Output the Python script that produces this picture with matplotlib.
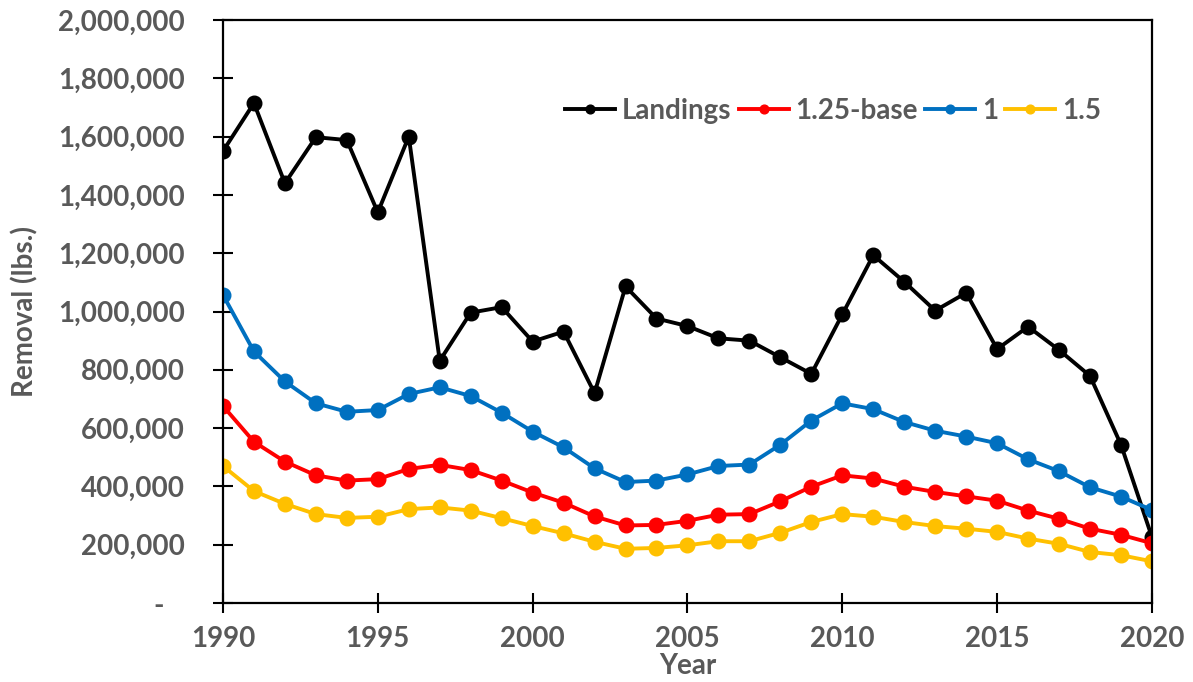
import matplotlib
matplotlib.use("Agg")
import matplotlib.pyplot as plt
from matplotlib.ticker import FuncFormatter, MultipleLocator

years = list(range(1990, 2021))
landings = [1550000, 1715000, 1440000, 1598000, 1588000, 1340000, 1600000, 831000, 996000, 1015000,
            897000, 931000, 720000, 1086000, 976000, 950000, 908000, 900000, 843000, 786000,
            990000, 1193000, 1102000, 1003000, 1064000, 871000, 948000, 868000, 779000, 543000, 226000]
base_125 = [676000, 553000, 485000, 438000, 420000, 425000, 460000, 474000, 456000, 420000,
            379000, 344000, 297000, 266000, 268000, 282000, 303000, 305000, 349000, 399000,
            438000, 427000, 399000, 381000, 366000, 351000, 317000, 289000, 255000, 234000, 205000]
m_1 = [1057000, 863000, 760000, 685000, 656000, 662000, 717000, 740000, 710000, 653000,
       588000, 534000, 462000, 415000, 420000, 441000, 470000, 475000, 543000, 626000,
       685000, 665000, 621000, 591000, 571000, 548000, 493000, 452000, 397000, 365000, 319000]
m_15 = [470000, 384000, 340000, 305000, 292000, 296000, 322000, 328000, 317000, 291000,
        264000, 239000, 210000, 186000, 189000, 198000, 212000, 212000, 241000, 278000,
        305000, 296000, 278000, 264000, 255000, 244000, 221000, 203000, 175000, 164000, 143000]

series_names = ["Landings", "1.25-base", "1", "1.5"]
series_data = [landings, base_125, m_1, m_15]
colors = ["#000000", "#FF0000", "#0070C0", "#FFC000"]

plt.rcParams['font.family'] = ['Lato', 'DejaVu Sans']
plt.rcParams['font.weight'] = 'bold'
gray = "#595959"
fs = 20

fig = plt.figure(figsize=(11.93, 6.82), dpi=100)
ax = fig.add_axes([0.1869, 0.1158, 0.9656 - 0.1869, 0.9707 - 0.1158])

for name, data, c in zip(series_names, series_data, colors):
    ax.plot(years, data, color=c, lw=2.8, marker='o', markersize=10.5, label=name)

ax.set_xlim(1990, 2020)
ax.set_ylim(0, 2000000)
ax.xaxis.set_major_locator(MultipleLocator(5))
ax.yaxis.set_major_locator(MultipleLocator(200000))

def yfmt(v, pos):
    if abs(v) < 1:
        return "-   "
    return f"{int(round(v)):,}"
ax.yaxis.set_major_formatter(FuncFormatter(yfmt))

for s in ax.spines.values():
    s.set_color("black")
    s.set_linewidth(1.6)

ax.tick_params(axis='both', direction='inout', length=15, width=1.5, color='black',
               labelsize=fs, labelcolor=gray)
ax.tick_params(axis='y', pad=20)
ax.tick_params(axis='x', pad=9)
for lab in ax.get_xticklabels() + ax.get_yticklabels():
    lab.set_fontweight('bold')

ax.set_xlabel("Year", fontsize=fs, fontweight='bold', color=gray, labelpad=1)
ax.set_ylabel("Removal (lbs.)", fontsize=fs, fontweight='bold', color=gray, labelpad=14)

leg = ax.legend(loc='upper right', bbox_to_anchor=(0.957, 0.885), ncol=4, frameon=False,
                fontsize=fs, markerscale=0.6, handlelength=1.8, handletextpad=0.25,
                columnspacing=0.25, borderaxespad=0)
for t in leg.get_texts():
    t.set_color(gray)
    t.set_fontweight('bold')

fig.savefig("out.png", dpi=100)
